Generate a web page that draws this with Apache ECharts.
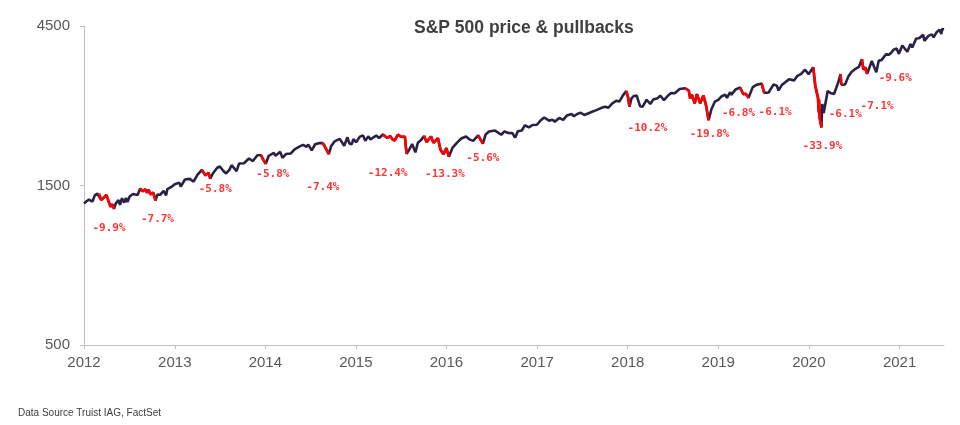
<!DOCTYPE html>
<html>
<head>
<meta charset="utf-8">
<script src="https://cdn.jsdelivr.net/npm/echarts@6/dist/echarts.min.js"></script>
<style>
html,body{margin:0;padding:0;background:#fff;}
#chart{width:960px;height:425px;}
</style>
</head>
<body>
<div id="chart"></div>
<script>
// ---------- DATA ----------
const dates = [
'2012-02-01','2012-02-10','2012-02-21','2012-03-06','2012-03-16','2012-03-26','2012-04-02','2012-04-10','2012-04-20','2012-05-01',
'2012-05-09','2012-05-18','2012-05-25','2012-06-01','2012-06-08','2012-06-19','2012-06-25','2012-07-03','2012-07-12','2012-07-19',
'2012-07-25','2012-08-03','2012-08-16','2012-08-24','2012-09-04','2012-09-14','2012-09-25','2012-10-05','2012-10-12','2012-10-18',
'2012-10-26','2012-11-06','2012-11-15','2012-11-23','2012-12-04','2012-12-18','2012-12-28',
'2013-01-02','2013-01-18','2013-02-01','2013-02-19','2013-02-25','2013-03-14','2013-04-02','2013-04-18','2013-05-03','2013-05-21',
'2013-06-05','2013-06-17','2013-06-24','2013-07-05','2013-07-22','2013-08-02','2013-08-15','2013-08-27','2013-09-09','2013-09-18',
'2013-10-08','2013-10-18','2013-11-07','2013-11-27','2013-12-13','2013-12-31',
'2014-01-15','2014-01-24','2014-02-03','2014-02-14','2014-03-07','2014-03-14','2014-04-02','2014-04-11','2014-04-25','2014-05-15',
'2014-05-30','2014-06-20','2014-07-03','2014-07-17','2014-07-24','2014-08-07','2014-08-21','2014-09-05','2014-09-18','2014-09-26',
'2014-10-01','2014-10-09','2014-10-15','2014-10-24','2014-11-07','2014-11-28','2014-12-05','2014-12-16','2014-12-29',
'2015-01-06','2015-01-15','2015-01-22','2015-02-02','2015-02-17','2015-03-02','2015-03-11','2015-03-23','2015-04-01','2015-04-24',
'2015-05-06','2015-05-21','2015-06-08','2015-06-19','2015-06-29','2015-07-08','2015-07-20','2015-08-03','2015-08-18','2015-08-21',
'2015-08-25','2015-09-04','2015-09-16','2015-09-29','2015-10-09','2015-10-22','2015-11-03','2015-11-13','2015-12-01','2015-12-11',
'2015-12-29',
'2016-01-08','2016-01-20','2016-02-01','2016-02-11','2016-02-26','2016-03-15','2016-04-01','2016-04-20','2016-05-06','2016-05-19',
'2016-06-08','2016-06-27','2016-07-08','2016-07-22','2016-08-15','2016-09-09','2016-09-22','2016-10-07','2016-10-24','2016-11-04',
'2016-11-15','2016-12-01','2016-12-13','2016-12-30',
'2017-01-13','2017-01-31','2017-02-15','2017-03-01','2017-03-21','2017-04-03','2017-04-13','2017-05-01','2017-05-17','2017-06-01',
'2017-06-19','2017-06-29','2017-07-14','2017-07-27','2017-08-10','2017-08-18','2017-09-01','2017-09-15','2017-10-02','2017-10-16',
'2017-11-01','2017-11-15','2017-12-01','2017-12-18','2017-12-29',
'2018-01-12','2018-01-26','2018-02-02','2018-02-08','2018-02-16','2018-02-26','2018-03-09','2018-03-23','2018-04-02','2018-04-18',
'2018-05-03','2018-05-15','2018-06-01','2018-06-12','2018-06-27','2018-07-16','2018-07-26','2018-08-10','2018-08-29','2018-09-20',
'2018-10-05','2018-10-11','2018-10-17','2018-10-29','2018-11-07','2018-11-20','2018-12-03','2018-12-14','2018-12-24',
'2019-01-04','2019-01-18','2019-02-01','2019-02-15','2019-03-01','2019-03-08','2019-03-21','2019-03-25','2019-04-12','2019-04-30',
'2019-05-13','2019-05-23','2019-06-03','2019-06-20','2019-07-03','2019-07-15','2019-07-26','2019-08-05','2019-08-14','2019-08-23',
'2019-09-12','2019-09-25','2019-10-02','2019-10-15','2019-11-01','2019-11-15','2019-12-03','2019-12-17','2019-12-31',
'2020-01-17','2020-01-31','2020-02-19','2020-02-27','2020-03-03','2020-03-09','2020-03-12','2020-03-13','2020-03-16','2020-03-23',
'2020-03-26','2020-04-01','2020-04-17','2020-05-01','2020-05-13','2020-05-29','2020-06-08','2020-06-11','2020-06-26','2020-07-10',
'2020-07-22','2020-08-07','2020-08-21','2020-09-02','2020-09-08','2020-09-16','2020-09-23','2020-10-12','2020-10-30','2020-11-09',
'2020-11-20','2020-12-08','2020-12-21','2020-12-31',
'2021-01-08','2021-01-20','2021-01-29','2021-02-12','2021-03-04','2021-03-17','2021-03-24','2021-04-09','2021-04-16','2021-04-20',
'2021-05-07','2021-05-12','2021-05-28','2021-06-11','2021-06-18','2021-07-01','2021-07-08','2021-07-12','2021-07-19','2021-07-23',
'2021-07-30'
];
const closes = [
1324,1343,1362,1343,1404,1417,1419,1358,1378,1405,
1354,1295,1318,1278,1325,1357,1313,1374,1334,1376,
1338,1391,1415,1411,1404,1466,1441,1461,1428,1457,
1411,1428,1353,1409,1407,1446,1402,
1462,1485,1513,1530,1488,1563,1570,1541,1614,1669,
1608,1639,1573,1632,1695,1709,1661,1630,1671,1725,
1656,1745,1748,1807,1775,1848,
1848,1790,1741,1838,1878,1841,1891,1815,1863,1870,
1924,1963,1985,1959,1988,1910,1993,2008,2011,1983,
1946,1929,1862,1964,2032,2068,2075,1973,2091,
2003,1992,2063,2021,2100,2117,2040,2104,2060,2117,
2080,2131,2080,2110,2058,2046,2128,2098,2097,1971,
1867,1921,1996,1884,2014,2052,2110,2023,2102,2012,
2078,
1922,1859,1940,1829,1948,2016,2073,2102,2057,2040,
2119,2001,2130,2175,2190,2128,2177,2153,2151,2085,
2180,2191,2271,2239,
2275,2279,2349,2396,2344,2359,2329,2388,2357,2431,
2453,2419,2459,2476,2438,2425,2477,2500,2529,2557,
2579,2565,2642,2690,2674,
2786,2873,2762,2581,2732,2780,2786,2588,2582,2708,
2630,2711,2735,2787,2699,2798,2837,2833,2914,2931,
2886,2728,2809,2641,2814,2642,2790,2600,2351,
2532,2671,2707,2775,2804,2743,2855,2799,2907,2946,
2812,2822,2744,2954,2996,3014,3026,2844,2840,2847,
3009,2984,2887,2995,3067,3120,3093,3192,3231,
3330,3226,3386,2979,3003,2747,2481,2711,2386,2237,
2630,2470,2875,2831,2820,3044,3232,3002,3009,3185,
3276,3351,3397,3580,3332,3385,3237,3535,3270,3550,
3558,3702,3694,3756,
3824,3852,3714,3934,3768,3975,3881,4129,4185,4135,
4233,4063,4204,4247,4166,4320,4321,4385,4259,4412,
4395
];
// pullback periods (peak -> trough)
const pullbackStart = ['2012-04-02','2012-09-14','2013-05-21','2014-01-15','2014-09-18','2015-05-21','2015-11-03','2016-06-08',
  '2018-01-26','2018-09-20','2019-04-30','2019-07-26','2020-02-19','2020-06-08','2020-09-02'];
const pullbackEnd = ['2012-06-01','2012-11-15','2013-06-24','2014-02-03','2014-10-15','2015-08-25','2016-02-11','2016-06-27',
  '2018-02-08','2018-12-24','2019-06-03','2019-08-05','2020-03-23','2020-06-11','2020-09-23'];
// labels and the date each one refers to
const labelTexts = ['-9.9%','-7.7%','-5.8%','-5.8%','-7.4%','-12.4%','-13.3%','-5.6%','-10.2%','-19.8%','-6.8%','-6.1%','-33.9%','-6.1%','-7.1%','-9.6%'];
const labelDates = ['2012-06-01','2012-11-15','2013-06-24','2014-02-03','2014-10-15','2015-08-25','2016-02-11','2016-06-27',
  '2018-02-08','2018-12-24','2019-06-03','2019-08-05','2020-03-23','2020-06-11','2020-09-23','2020-10-30'];
const yTicks = [500, 1500, 4500];
const xTickYears = [2012,2013,2014,2015,2016,2017,2018,2019,2020,2021];

// ---------- LAYOUT / STYLE ----------
const labelOffsets = [[-5,19],[2,19],[5,11],[7,10],[-6,33],[-19,19],[-4,17],[0,14],[18,21],[1,14],[-10,15],[11,20],[1,19],[4,29],[10,32],[19,6]];

function ts(s){ const p = s.split('-').map(Number); return Date.UTC(p[0], p[1]-1, p[2]); }

const mainData = dates.map((d,i)=>[ts(d), closes[i]]);
const redData = dates.map((d,i)=>{
  const t = ts(d);
  let inside = false;
  for (let k=0;k<pullbackStart.length;k++){
    if (t >= ts(pullbackStart[k]) && t <= ts(pullbackEnd[k])) { inside = true; break; }
  }
  return [t, inside ? closes[i] : '-'];
});
const labelData = labelTexts.map((txt,i)=>{
  const idx = dates.indexOf(labelDates[i]);
  return {
    value: [ts(labelDates[i]), closes[idx]],
    label: { formatter: txt, offset: labelOffsets[i] }
  };
});

const xMin = ts(dates[0]), xMax = ts(dates[dates.length-1]);
const xTickVals = xTickYears.map(y => Date.UTC(y,1,1));

const chart = echarts.init(document.getElementById('chart'), null, {renderer:'canvas'});
chart.setOption({
  animation: false,
  backgroundColor: '#ffffff',
  title: {
    text: 'S&P 500 price & pullbacks',
    left: 409, top: 14,
    textStyle: { fontFamily: 'Liberation Sans, Arial, sans-serif', fontSize: 17.5, fontWeight: 'bold', color: '#404040' }
  },
  graphic: [{
    type: 'text', left: 18, top: 408,
    style: { text: 'Data Source Truist IAG, FactSet', font: '10px "Liberation Sans", Arial, sans-serif', fill: '#404040' }
  }],
  grid: { left: 84, right: 16, top: 26, bottom: 80, containLabel: false },
  xAxis: {
    type: 'value',
    min: xMin, max: xMax,
    axisLine: { show: true, lineStyle: { color: '#bfbfbf', width: 1 } },
    axisTick: { show: true, length: 4, customValues: xTickVals, lineStyle: { color: '#bfbfbf' } },
    axisLabel: {
      customValues: xTickVals,
      formatter: v => String(new Date(v).getUTCFullYear()),
      fontFamily: 'Liberation Sans, Arial, sans-serif', fontSize: 15, color: '#595959', margin: 10,
      hideOverlap: false
    },
    splitLine: { show: false }
  },
  yAxis: {
    type: 'log', logBase: 3,
    min: 500, max: 4500,
    axisLine: { show: true, lineStyle: { color: '#bfbfbf', width: 1 } },
    axisTick: { show: true, length: 4, customValues: yTicks, lineStyle: { color: '#bfbfbf' } },
    axisLabel: {
      customValues: yTicks,
      formatter: v => String(Math.round(v)),
      fontFamily: 'Liberation Sans, Arial, sans-serif', fontSize: 15, color: '#595959', margin: 14
    },
    splitLine: { show: false }
  },
  series: [
    {
      type: 'line', data: mainData, showSymbol: false, symbol: 'none',
      lineStyle: { color: '#2B2146', width: 2.6 }, z: 2
    },
    {
      type: 'line', data: redData, showSymbol: false, symbol: 'none', connectNulls: false,
      lineStyle: { color: '#FF0000', width: 2.6 }, z: 3
    },
    {
      type: 'scatter', data: labelData, symbolSize: 0, z: 4,
      label: {
        show: true, position: 'inside',
        fontFamily: 'DejaVu Sans Mono, monospace', fontSize: 11, fontWeight: 'bold', color: '#FF0000'
      }
    }
  ]
});
</script>
</body>
</html>
